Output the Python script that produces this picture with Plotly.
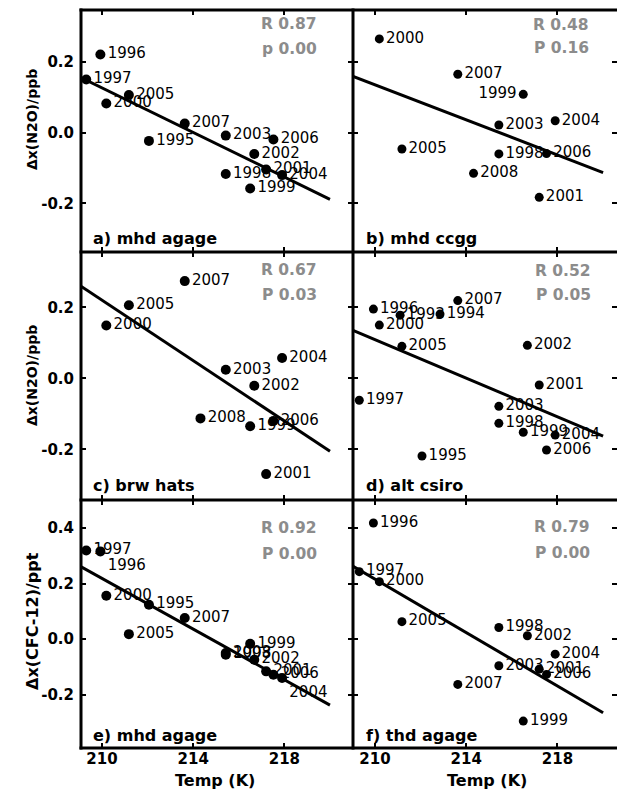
import numpy as np
import plotly.graph_objects as go

# ---------------- data ----------------
a_years = [1995, 1996, 1997, 1998, 1999, 2000, 2001, 2002, 2003, 2004, 2005, 2006, 2007]
a_temp = [212.06, 209.93, 209.31, 215.43, 216.50, 210.19, 217.20, 216.68, 215.43, 217.90, 211.18, 217.52, 213.63]
a_val = [-0.023, 0.222, 0.151, -0.117, -0.158, 0.083, -0.104, -0.060, -0.008, -0.120, 0.107, -0.019, 0.026]

b_years = [1998, 1999, 2000, 2001, 2003, 2004, 2005, 2006, 2007, 2008]
b_temp = [215.43, 216.50, 210.19, 217.20, 215.43, 217.90, 211.18, 217.52, 213.63, 214.32]
b_val = [-0.060, 0.109, 0.266, -0.183, 0.022, 0.034, -0.046, -0.059, 0.166, -0.115]

c_years = [1999, 2000, 2001, 2002, 2003, 2004, 2005, 2006, 2007, 2008]
c_temp = [216.50, 210.19, 217.20, 216.68, 215.43, 217.90, 211.18, 217.52, 213.63, 214.32]
c_val = [-0.135, 0.149, -0.270, -0.021, 0.024, 0.057, 0.206, -0.120, 0.274, -0.113]

d_years = [1993, 1994, 1995, 1996, 1997, 1998, 1999, 2000, 2001, 2002, 2003, 2004, 2005, 2006, 2007]
d_temp = [211.10, 212.85, 212.06, 209.93, 209.31, 215.43, 216.50, 210.19, 217.20, 216.68, 215.43, 217.90, 211.18, 217.52, 213.63]
d_val = [0.178, 0.181, -0.219, 0.195, -0.062, -0.127, -0.152, 0.150, -0.019, 0.093, -0.079, -0.160, 0.090, -0.202, 0.219]

e_years = [1995, 1996, 1997, 1998, 1999, 2000, 2001, 2002, 2003, 2004, 2005, 2006, 2007]
e_temp = [212.06, 209.93, 209.31, 215.43, 216.50, 210.19, 217.20, 216.68, 215.43, 217.90, 211.18, 217.52, 213.63]
e_val = [0.124, 0.316, 0.319, -0.056, -0.017, 0.156, -0.116, -0.074, -0.050, -0.140, 0.018, -0.128, 0.076]

f_years = [1996, 1997, 1998, 1999, 2000, 2001, 2002, 2003, 2004, 2005, 2006, 2007]
f_temp = [209.93, 209.31, 215.43, 216.50, 210.19, 217.20, 216.68, 215.43, 217.90, 211.18, 217.52, 213.63]
f_val = [0.418, 0.243, 0.042, -0.295, 0.207, -0.108, 0.012, -0.096, -0.054, 0.063, -0.127, -0.163]

panel_names = ["a) mhd agage", "b) mhd ccgg", "c) brw hats", "d) alt csiro", "e) mhd agage", "f) thd agage"]
r_texts = ["R 0.87", "R 0.48", "R 0.67", "R 0.52", "R 0.92", "R 0.79"]
p_texts = ["p 0.00", "P 0.16", "P 0.03", "P 0.05", "P 0.00", "P 0.00"]

x_tickvals = [210, 214, 218]
x_ticktext = ["210", "214", "218"]
y_tickvals_n2o = [-0.2, 0.0, 0.2]
y_ticktext_n2o = ["-0.2", "0.0", "0.2"]
y_tickvals_cfc = [-0.2, 0.0, 0.2, 0.4]
y_ticktext_cfc = ["-0.2", "0.0", "0.2", "0.4"]
y_titles = ["\u0394x(N2O)/ppb", "\u0394x(N2O)/ppb", "\u0394x(CFC-12)/ppt"]
x_title = "Temp (K)"

# ---------------- layout geometry (pixels) ----------------
W, H = 617, 799
ML, MR, MT, MB = 81, 0, 10, 51
PW, PH = W - ML - MR, H - MT - MB
col_px = [(81, 353), (353, 617)]
row_px = [(10, 252), (252, 500), (500, 748)]
x_ranges = [[209.08, 221.01], [209.035, 220.61]]
y_ranges = [[-0.338, 0.348], [-0.343, 0.356], [-0.392, 0.501]]

def px2paper_x(px):
    return (px - ML) / PW

def px2paper_y(py):
    return (MT + PH - py) / PH

FONT = "DejaVu Sans"
GRAY = "#8c8c8c"

panels = [
    (a_years, a_temp, a_val),
    (b_years, b_temp, b_val),
    (c_years, c_temp, c_val),
    (d_years, d_temp, d_val),
    (e_years, e_temp, e_val),
    (f_years, f_temp, f_val),
]

label_pos = {(1, 1999): "middle left", (4, 1996): "bottom right", (4, 2004): "bottom right"}

fig = go.Figure()
layout = dict(
    width=W, height=H, autosize=False,
    margin=dict(l=ML, r=MR, t=MT, b=MB, pad=0),
    paper_bgcolor="white", plot_bgcolor="white",
    showlegend=False,
    font=dict(family=FONT, color="black"),
)
annotations = []

for i, (yrs, tx, vy) in enumerate(panels):
    r, c = divmod(i, 2)
    n = i + 1
    xa = "x" if n == 1 else f"x{n}"
    ya = "y" if n == 1 else f"y{n}"
    # regression line
    slope, icpt = np.polyfit(np.array(tx), np.array(vy), 1)
    xl = np.array([209.0, 220.0])
    fig.add_trace(go.Scatter(x=xl, y=slope * xl + icpt, mode="lines",
                             line=dict(color="black", width=3),
                             xaxis=xa, yaxis=ya, hoverinfo="skip"))
    tpos = [label_pos.get((i, yv), "middle right") for yv in yrs]
    fig.add_trace(go.Scatter(x=tx, y=vy, mode="markers+text",
                             text=[str(yv) for yv in yrs], textposition=tpos,
                             textfont=dict(family=FONT, size=15, color="black"),
                             marker=dict(color="black", size=10 if c == 0 else 9),
                             cliponaxis=False, xaxis=xa, yaxis=ya))
    xd = [px2paper_x(col_px[c][0]), px2paper_x(col_px[c][1])]
    yd = [px2paper_y(row_px[r][1]), px2paper_y(row_px[r][0])]
    xkey = "xaxis" if n == 1 else f"xaxis{n}"
    ykey = "yaxis" if n == 1 else f"yaxis{n}"
    layout[xkey] = dict(
        domain=xd, range=x_ranges[c], anchor=ya,
        tickvals=x_tickvals, ticktext=x_ticktext,
        showticklabels=(r == 2),
        ticks="inside", ticklen=5, tickwidth=2, tickcolor="black",
        showline=False, mirror="ticks",
        showgrid=False, zeroline=False,
        tickfont=dict(family=FONT, size=15, color="black", weight="bold"),
    )
    yv = y_tickvals_cfc if r == 2 else y_tickvals_n2o
    yt = y_ticktext_cfc if r == 2 else y_ticktext_n2o
    layout[ykey] = dict(
        domain=yd, range=y_ranges[r], anchor=xa,
        tickvals=yv, ticktext=yt,
        showticklabels=(c == 0),
        ticks="inside", ticklen=5, tickwidth=2, tickcolor="black",
        showline=False, mirror="ticks",
        showgrid=False, zeroline=False,
        ticklabelstandoff=6,
        tickfont=dict(family=FONT, size=15, color="black", weight="bold"),
    )

# frame lines (single 3 px lines on every panel border)
shapes = []
for px in (col_px[0][0], col_px[0][1]):
    shapes.append(dict(type="line", xref="paper", yref="paper",
                       x0=px2paper_x(px), x1=px2paper_x(px),
                       y0=px2paper_y(row_px[2][1] + 1.5), y1=px2paper_y(row_px[0][0] - 1.5),
                       line=dict(color="black", width=3)))
for py in (row_px[0][0], row_px[0][1], row_px[1][1], row_px[2][1]):
    shapes.append(dict(type="line", xref="paper", yref="paper",
                       x0=px2paper_x(col_px[0][0] - 1.5), x1=px2paper_x(col_px[1][1] + 5),
                       y0=px2paper_y(py), y1=px2paper_y(py),
                       line=dict(color="black", width=3)))

# R / P statistics text
r_px = [(289, 24), (561, 25), (289, 270), (563, 271), (289, 527.5), (562, 527)]
p_px = [(289, 49), (561, 48), (289, 295), (563, 295), (289, 554), (562, 553)]
for i in range(6):
    for txt, (px, py) in ((r_texts[i], r_px[i]), (p_texts[i], p_px[i])):
        annotations.append(dict(text=txt, x=px2paper_x(px), y=px2paper_y(py),
                                xref="paper", yref="paper", showarrow=False,
                                xanchor="center", yanchor="middle",
                                font=dict(family=FONT, size=15.5, color=GRAY, weight="bold")))

# panel labels
lab_px = [(91, 239), (364, 239), (91, 485), (364, 485), (91, 735), (364, 735)]
for i in range(6):
    px, py = lab_px[i]
    annotations.append(dict(text=panel_names[i], x=px2paper_x(px), y=px2paper_y(py),
                            xref="paper", yref="paper", showarrow=False,
                            xanchor="left", yanchor="middle",
                            font=dict(family=FONT, size=16, color="black", weight="bold")))

# axis titles
for px in (215, 487):
    annotations.append(dict(text=x_title, x=px2paper_x(px), y=px2paper_y(780),
                            xref="paper", yref="paper", showarrow=False,
                            xanchor="center", yanchor="middle",
                            font=dict(family=FONT, size=16, color="black", weight="bold")))
ytitle_py = [120, 376, 621]
ytitle_size = [14, 14, 16]
for k in range(3):
    annotations.append(dict(text=y_titles[k], x=px2paper_x(32), y=px2paper_y(ytitle_py[k]),
                            xref="paper", yref="paper", showarrow=False, textangle=-90,
                            xanchor="center", yanchor="middle",
                            font=dict(family=FONT, size=ytitle_size[k], color="black", weight="bold")))

layout["annotations"] = annotations
layout["shapes"] = shapes
fig.update_layout(**layout)
fig.write_html("out.html")
